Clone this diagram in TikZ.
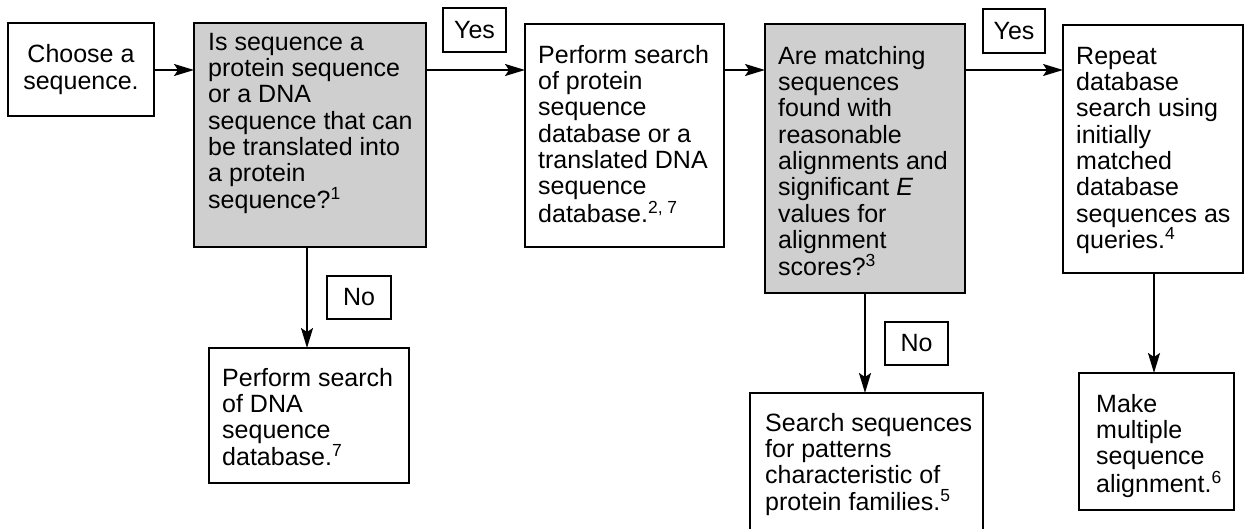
\documentclass[tikz,border=0pt]{standalone}
\usepackage{fontspec}
\setmainfont{Liberation Sans}
\usetikzlibrary{arrows.meta,calc}
\begin{document}
\begin{tikzpicture}[x=1pt,y=-1pt,
  box/.style={draw=black,line width=1.5pt,inner sep=0pt,outer sep=0pt,anchor=north west},
  greybox/.style={box,fill=black!19},
  txt/.style={align=left,inner sep=0pt,anchor=north west,font=\fontsize{25}{26.3}\selectfont},
  lbl/.style={draw=black,line width=1.5pt,inner sep=0pt,outer sep=0pt,font=\fontsize{25}{26.3}\selectfont},
  arr/.style={line width=1.9pt,-{Stealth[length=20pt,width=12pt,inset=4pt]}}]
\clip (0,0) rectangle (1245,529);
\useasboundingbox (0,0) rectangle (1245,529);
\fill[white] (0,0) rectangle (1245,529);
% boxes
\node[box,minimum width=146pt,minimum height=93pt,align=center,font=\fontsize{25}{26.3}\selectfont] (choose) at (8,23) {Choose a\\sequence.};
\node[greybox,minimum width=232pt,minimum height=224pt] (grey1) at (194,23) {};
\node[box,minimum width=199pt,minimum height=223pt] (prot) at (525,24) {};
\node[greybox,minimum width=200pt,minimum height=269pt] (grey2) at (765,24) {};
\node[box,minimum width=180pt,minimum height=248pt] (repeat) at (1063,25) {};
\node[box,minimum width=200pt,minimum height=135pt] (dna) at (209,348) {};
\node[box,minimum width=233pt,minimum height=145pt] (search) at (750,393) {};
\node[box,minimum width=155pt,minimum height=137pt] (make) at (1079,373) {};
% texts
\node[txt] (grey1t) at ($(grey1.north west)+(14,10)$) {Is sequence a\\protein sequence\\or a DNA\\sequence that can\\be translated into\\a protein\\sequence?\textsuperscript{1}};
\node[txt] (prott) at ($(prot.north west)+(13,21)$) {Perform search\\of protein\\sequence\\database or a\\translated DNA\\sequence\\database.\textsuperscript{2, 7}};
\node[txt] (grey2t) at ($(grey2.north west)+(13,22)$) {Are matching\\sequences\\found with\\reasonable\\alignments and\\significant \textit{E}\\values for\\alignment\\scores?\textsuperscript{3}};
\node[txt] (repeatt) at ($(repeat.north west)+(13,22)$) {Repeat\\database\\search using\\initially\\matched\\database\\sequences as\\queries.\textsuperscript{4}};
\node[txt] (dnat) at ($(dna.north west)+(13,20)$) {Perform search\\of DNA\\sequence\\database.\textsuperscript{7}};
\node[txt] (searcht) at ($(search.north west)+(15,20)$) {Search sequences\\for patterns\\characteristic of\\protein families.\textsuperscript{5}};
\node[txt] (maket) at ($(make.north west)+(17,21)$) {Make\\multiple\\sequence\\alignment.\textsuperscript{6}};
% labels
\node[lbl,minimum width=63pt,minimum height=44pt] (yes1) at (474.5,30) {Yes};
\node[lbl,minimum width=62pt,minimum height=44pt] (yes2) at (1014,31) {Yes};
\node[lbl,minimum width=64pt,minimum height=43pt] (no1) at (359,297.5) {No};
\node[lbl,minimum width=63pt,minimum height=43pt] (no2) at (916.5,343.5) {No};
% connectors
\coordinate (row) at (0,70);
\draw[arr] (choose.east |- row) -- (grey1.west |- row);
\draw[arr] (grey1.east |- row) -- (prot.west |- row);
\draw[arr] (prot.east |- row) -- (grey2.west |- row);
\draw[arr] (grey2.east |- row) -- (repeat.west |- row);
\coordinate (c1) at (307,0);
\coordinate (c2) at (865,0);
\coordinate (c3) at (1154,0);
\draw[arr] (c1 |- grey1.south) -- (c1 |- dna.north);
\draw[arr] (c2 |- grey2.south) -- (c2 |- search.north);
\draw[arr] (c3 |- repeat.south) -- (c3 |- make.north);
\end{tikzpicture}
\end{document}
